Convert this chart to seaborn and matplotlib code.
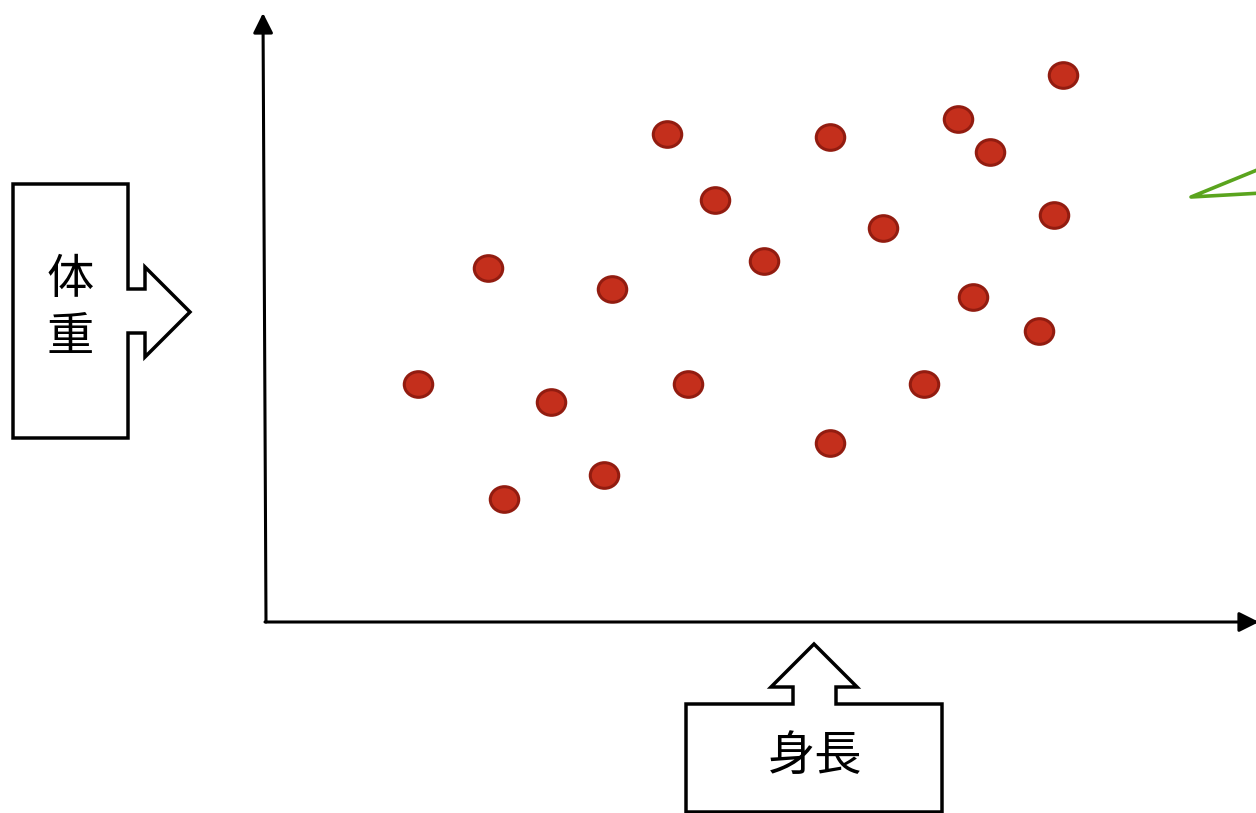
import numpy as np
import pandas as pd
import seaborn as sns
import matplotlib.pyplot as plt
from matplotlib.path import Path
from matplotlib.patches import Polygon

sns.set_theme(style="white")
plt.rcParams['font.family'] = ['Noto Sans CJK JP', 'DejaVu Sans']
plt.rcParams['text.color'] = 'black'

# 身長 (x) と 体重 (y) の値、原点からの目盛なし単位
height = [15.2, 22.2, 23.8, 28.5, 33.8, 34.6, 40.1, 42.2, 44.9, 49.8,
          56.4, 56.4, 61.7, 65.8, 69.2, 70.7, 72.4, 77.3, 78.8, 79.7]
weight = [23.8, 35.4, 12.3, 22.0, 14.7, 33.3, 48.8, 23.8, 42.2, 36.1,
          48.5, 17.9, 39.4, 23.8, 50.3, 32.5, 47.0, 29.1, 40.7, 54.7]
df = pd.DataFrame({"身長": height, "体重": weight})

W, H = 1256, 813
fig = plt.figure(figsize=(W / 100, H / 100), dpi=100)

# 全体に重ねる装飾用の軸 (ピクセル座標)
deco = fig.add_axes([0, 0, 1, 1])
deco.set_xlim(0, W)
deco.set_ylim(H, 0)
deco.axis("off")

# 縦軸・横軸の矢印
arrow = dict(arrowstyle="-|>,head_length=0.6,head_width=0.3", lw=2.2,
             color="black", shrinkA=0, shrinkB=0, mutation_scale=20)
deco.annotate("", xy=(263, 13), xytext=(266, 622), arrowprops=arrow,
              annotation_clip=False)
deco.annotate("", xy=(1259, 622), xytext=(265, 622), arrowprops=arrow,
              annotation_clip=False)

# 左の吹き出し (体重 →)
left_box = [(13, 184), (128, 184), (128, 289), (145, 289), (145, 267),
            (190, 312), (145, 357), (145, 333), (128, 333), (128, 438),
            (13, 438)]
deco.add_patch(Polygon(left_box, closed=True, fill=False, lw=2.5,
                       edgecolor="black", joinstyle="miter"))
deco.text(70, 280, "体", fontsize=34, ha="center", va="center",
          color="black")
deco.text(70, 338, "重", fontsize=34, ha="center", va="center",
          color="black")

# 下の吹き出し (身長 ↑)
bottom_box = [(686, 812), (686, 704), (793, 704), (793, 687), (771, 687),
              (814, 644), (857, 687), (836, 687), (836, 704), (942, 704),
              (942, 812)]
deco.add_patch(Polygon(bottom_box, closed=True, fill=False, lw=2.5,
                       edgecolor="black", joinstyle="miter"))
deco.text(815, 757, "身長", fontsize=34, ha="center", va="center",
          color="black")

# 右上の緑の線 (画面外へ続く)
deco.plot([1262, 1191, 1262], [168, 197, 193], color="#5aa41e", lw=2.6,
          solid_joinstyle="round", solid_capstyle="round", clip_on=False)

# 散布図の軸 (原点 = 軸の角)
ax = fig.add_axes([266 / W, (H - 622) / H, (W - 266) / W, (622 - 13) / H])
ax.patch.set_alpha(0)
ax.set_xlim(0, (W - 266) / 10)
ax.set_ylim(0, (622 - 13) / 10)
ax.axis("off")

circle = Path.unit_circle()
ellipse = Path(circle.vertices * np.array([1.0, 0.9]), circle.codes)
sns.scatterplot(data=df, x="身長", y="体重", ax=ax, marker=ellipse, s=420,
                color="#c42f1c", edgecolor="#921c10", linewidth=2.2,
                legend=False, clip_on=False)

fig.savefig("out.png", dpi=100)
